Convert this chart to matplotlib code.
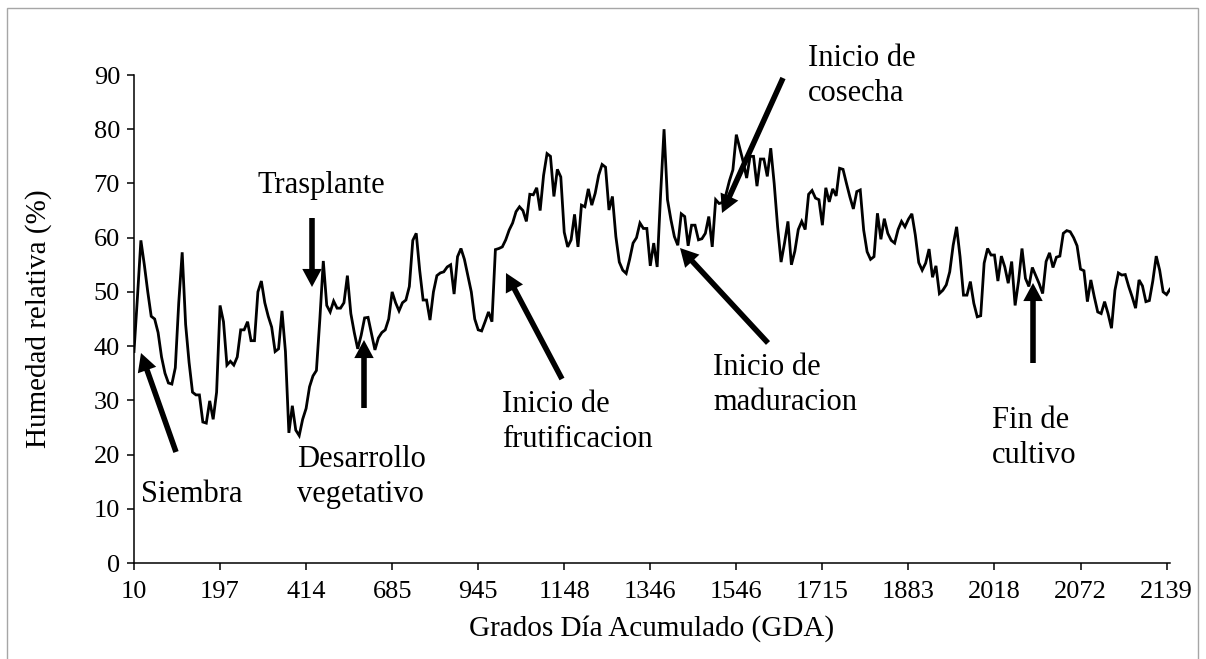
import matplotlib
matplotlib.use("Agg")
import matplotlib.pyplot as plt
from matplotlib.patches import Rectangle

plt.rcParams['font.family'] = ['Liberation Serif', 'DejaVu Serif']

# tick labels (Grados Dia Acumulado), one every 25 readings
gda_labels = ['10', '197', '414', '685', '945', '1148', '1346', '1546',
              '1715', '1883', '2018', '2072', '2139']

# relative humidity (%), in order
rh_a = [39, 49, 59.5, 55, 50, 45.5, 45, 42.5, 38, 35,
        33.2, 33, 36, 48, 57.3, 44, 37, 31.5, 31, 31,
        26, 25.8, 29.9, 26.5, 31.5, 47.5, 44.5, 36.5, 37.2, 36.5,
        38, 43, 43, 44.5, 41, 41, 50, 52, 48, 45.5,
        43.5, 39, 39.5]
rh_b = [46.5, 39, 24, 29, 24.5, 23.5, 26.5, 28.5, 32.5, 34.5,
        35.5, 45, 55.7, 47.5, 46.3, 48.3, 47, 47, 48, 53,
        46, 42.5, 39.5, 42, 45.2, 45.3, 42.3, 39.3, 41.5, 42.5,
        43, 45, 50, 48, 46.5, 48, 48.5, 51, 59.5, 60.8,
        54, 48.5, 48.5]
rh_c = [44.8, 50, 53, 53.5, 53.7, 54.6, 55, 49.6, 56.5, 58,
        56, 53, 50, 45, 43, 42.8, 44.5, 46.3, 44.5, 57.8,
        58, 58.3, 59.6, 61.4, 62.7, 64.8, 65.7, 65, 63, 68,
        67.9, 69.2, 65, 71.5, 75.5, 75, 67.6, 72.6, 71.2, 61,
        58.3, 59.6, 64.3]
rh_d = [58.3, 66, 65.7, 69, 66, 68.2, 71.5, 73.5, 73, 65.1,
        67.6, 60.2, 55.5, 54, 53.4, 56, 59, 60, 62.7, 61.7,
        61.7, 54.8, 59, 54.6, 68, 80, 67, 63.3, 60.2, 58.6,
        64.4, 63.9, 58.5, 62.3, 62.3, 59.6, 59.8, 60.8, 63.9, 58.3,
        67, 66.3, 66.5]
rh_e = [68, 70.5, 72.5, 79, 76.5, 74, 71, 75, 75, 69.5,
        74.5, 74.5, 71.3, 76.5, 70, 62, 55.5, 59, 63, 55,
        57.5, 61.5, 63, 61.5, 68, 68.7, 67.3, 67, 62.3, 69.2,
        66.6, 69, 67.7, 72.8, 72.6, 70, 67.5, 65.3, 68.5, 68.8,
        61.4, 57.4, 56, 56.5]
rh_f = [64.5, 59.7, 63.5, 60.8, 59.5, 59, 61.5, 63, 62, 63.4,
        64.4, 60.5, 55.4, 54, 55.3, 57.9, 52.7, 54.8, 49.7, 50.3,
        51.3, 53.7, 58.6, 62, 56.5, 49.4, 49.4, 51.9, 47.9, 45.4,
        45.6, 55.3, 58, 56.8, 56.8, 52, 56.6, 54.6, 51.6, 55.6,
        47.5, 52]
rh_g = [58, 52.5, 51, 54.5, 53, 51.5, 49.7, 55.6, 57.2, 54.5,
        56.4, 56.6, 60.8, 61.3, 61.1, 60, 58.5, 54.2, 53.9, 48.2,
        52.2, 49.1, 46.3, 46, 48.2, 46, 43.3, 50.3, 53.5, 53.1,
        53.2, 51, 49.1, 47, 52.2, 51.1, 48.2, 48.4, 52, 56.6,
        54, 50, 49.5, 50.5]
rh = rh_a + rh_b + rh_c + rh_d + rh_e + rh_f + rh_g

# phase annotations: text lines, and arrows (tail -> tip) in figure pixels from top-left
stage_texts = [
    ('Siembra', 141, 502),
    ('Trasplante', 257, 193),
    ('Desarrollo', 297, 467), ('vegetativo', 297, 502),
    ('Inicio de', 502, 412), ('frutificacion', 502, 447),
    ('Inicio de', 713, 375), ('maduracion', 713, 410),
    ('Inicio de', 808, 66), ('cosecha', 808, 101),
    ('Fin de', 992, 428), ('cultivo', 992, 463),
]
stage_arrows = [
    ((176, 452), (141, 353)),
    ((312, 218), (312, 287)),
    ((364, 408), (364, 340)),
    ((562, 379), (506, 273)),
    ((768, 343), (680, 248)),
    ((783, 78), (722, 213)),
    ((1033, 363), (1033, 283)),
]

W, H = 1206, 659
fig = plt.figure(figsize=(W / 100, H / 100), dpi=100)
ax = fig.add_axes([134 / W, 96 / H, 1036 / W, 488 / H])

ax.plot(range(len(rh)), rh, color='black', lw=2.0, solid_joinstyle='miter')

ax.set_xlim(0, len(rh) - 1)
ax.set_ylim(0, 90)
ax.set_yticks(range(0, 91, 10))
ax.set_xticks(range(0, 25 * len(gda_labels), 25))
ax.set_xticklabels(gda_labels)
ax.tick_params(axis='both', direction='out', length=5, width=1.1,
               labelsize=19, color='black')
ax.tick_params(axis='y', pad=5)
ax.tick_params(axis='x', pad=8)
for side in ['top', 'right']:
    ax.spines[side].set_visible(False)
for side in ['left', 'bottom']:
    ax.spines[side].set_linewidth(1.1)

ax.set_xlabel('Grados Día Acumulado (GDA)', fontsize=21, labelpad=9)
ax.set_ylabel('Humedad relativa (%)', fontsize=21, labelpad=30)

for s, x, y in stage_texts:
    fig.text(x / W, 1 - y / H, s, fontsize=22, ha='left', va='baseline')

for (tx, ty), (hx, hy) in stage_arrows:
    ax.annotate('', xy=(hx, H - hy), xycoords='figure pixels',
                xytext=(tx, H - ty), textcoords='figure pixels',
                arrowprops=dict(facecolor='black', edgecolor='none', width=4,
                                headwidth=14, headlength=13, shrink=0))

fig.patches.append(Rectangle((7 / W, -0.05), (1198 - 7) / W, 1 - 8 / H + 0.05,
                             transform=fig.transFigure, fill=False,
                             edgecolor='#a6a6a6', lw=1))

fig.savefig('out.png', dpi=100)
